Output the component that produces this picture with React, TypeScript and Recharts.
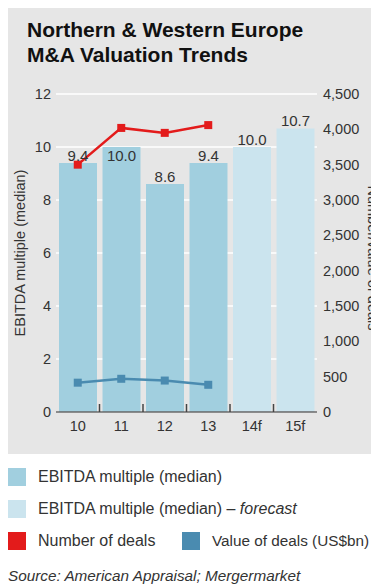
import React from 'react';
import { ComposedChart, Bar, Line, XAxis, YAxis, CartesianGrid, LabelList, Cell } from 'recharts';

// Years on the category axis ("f" = forecast)
const years = ['10', '11', '12', '13', '14f', '15f'];
// EBITDA multiple (median), left axis
const ebitdaMultiple = [9.4, 10.0, 8.6, 9.4, 10.0, 10.7];
const isForecast = [false, false, false, false, true, true];
// Number of deals and value of deals (US$bn), right axis
const numberOfDeals: (number | null)[] = [3500, 4020, 3950, 4060, null, null];
const valueOfDeals: (number | null)[] = [415, 470, 445, 385, null, null];
// Axis ticks
const multipleTicks = [0, 2, 4, 6, 8, 10, 12];
const dealTicks = [0, 500, 1000, 1500, 2000, 2500, 3000, 3500, 4000, 4500];

const data = years.map((year, i) => ({
  year,
  multiple: ebitdaMultiple[i],
  forecast: isForecast[i],
  deals: numberOfDeals[i],
  value: valueOfDeals[i],
}));

const FONT = '"Liberation Sans", Arial, Helvetica, sans-serif';
const TEXT = '#333333';
const PANEL = '#e6e6e6';
const BAR = '#a1cfdf';
const BAR_FORECAST = '#cbe4ee';
const RED = '#e31b1b';
const BLUE = '#4a8bb0';

const CHART_W = 371;
const CHART_H = 447;
const LEFT_W = 48;
const RIGHT_W = 62;
const BAND = (CHART_W - LEFT_W - RIGHT_W) / years.length;

// Bars whose value label sits just inside the top of the bar
const labelInside = [false, true, false, false, false, false];

const BarValueLabel = (props: any) => {
  const { x, y, width, value, index } = props;
  const cy = labelInside[index] ? y + 8 : y - 7.5;
  return (
    <text
      x={x + width / 2}
      y={cy}
      textAnchor="middle"
      dominantBaseline="central"
      fill={TEXT}
      fontFamily={FONT}
      fontSize={15}
    >
      {Number(value).toFixed(1)}
    </text>
  );
};

const YearTick = (props: any) => {
  const { x, y, payload, index } = props;
  return (
    <g>
      {index > 0 && (
        <line x1={x - BAND / 2} x2={x - BAND / 2} y1={y} y2={y - 8} stroke="#444" strokeWidth={1.5} />
      )}
      <text
        x={x}
        y={y + 14}
        textAnchor="middle"
        dominantBaseline="central"
        fill={TEXT}
        fontFamily={FONT}
        fontSize={14.5}
      >
        {payload.value}
      </text>
    </g>
  );
};

const squareDot = (color: string) => (p: any) => {
  if (p.cx == null || p.cy == null || p.value == null) return <g key={p.index} />;
  return <rect key={p.index} x={p.cx - 4} y={p.cy - 4} width={8} height={8} fill={color} />;
};

const LeftTitle = (props: any) => {
  const vb = props.viewBox;
  const x = vb.x + 12;
  const y = vb.y + vb.height / 2;
  return (
    <text
      x={x}
      y={y}
      transform={`rotate(-90, ${x}, ${y})`}
      textAnchor="middle"
      dominantBaseline="central"
      fill={TEXT}
      fontFamily={FONT}
      fontSize={14.5}
    >
      EBITDA multiple (median)
    </text>
  );
};

const RightTitle = (props: any) => {
  const vb = props.viewBox;
  const x = vb.x + 51;
  const y = vb.y + vb.height / 2 + 5;
  return (
    <text
      x={x}
      y={y}
      transform={`rotate(90, ${x}, ${y})`}
      textAnchor="middle"
      fill={TEXT}
      fontFamily={FONT}
      fontSize={14.5}
    >
      Number/value of deals
    </text>
  );
};

const Swatch = ({ color }: { color: string }) => (
  <span style={{ display: 'inline-block', width: 18, height: 18, background: color, marginRight: 12, flex: 'none' }} />
);

const legendRow: React.CSSProperties = {
  position: 'absolute',
  left: 0,
  display: 'flex',
  alignItems: 'center',
  height: 18,
  fontFamily: FONT,
  fontSize: 16,
  color: TEXT,
  whiteSpace: 'nowrap',
};

export default function App() {
  return (
    <div style={{ position: 'relative', width: CHART_W, height: 577, marginTop: -1, fontFamily: FONT }}>
      <div style={{ position: 'absolute', left: 0, top: 0, width: CHART_W, height: CHART_H, background: PANEL }}>
        <div
          style={{
            position: 'absolute',
            left: 19,
            top: 10,
            fontFamily: FONT,
            fontWeight: 'bold',
            fontSize: 21,
            lineHeight: '25px',
            color: '#111',
            whiteSpace: 'nowrap',
          }}
        >
          Northern &amp; Western Europe
          <br />
          M&amp;A Valuation Trends
        </div>
        <ComposedChart
          width={CHART_W}
          height={CHART_H}
          data={data}
          margin={{ top: 87, right: 0, bottom: 0, left: 0 }}
        >
          <CartesianGrid yAxisId="left" vertical={false} stroke="#ffffff" strokeWidth={1.5} />
          <YAxis
            yAxisId="left"
            domain={[0, 12]}
            ticks={multipleTicks}
            width={LEFT_W}
            axisLine={false}
            tickLine={false}
            tickSize={3}
            tickMargin={2}
            tick={{ fill: TEXT, fontSize: 14.5, fontFamily: FONT }}
            label={LeftTitle}
          />
          <YAxis
            yAxisId="right"
            orientation="right"
            domain={[0, 4500]}
            ticks={dealTicks}
            width={RIGHT_W}
            axisLine={false}
            tickLine={false}
            tickSize={4}
            tickMargin={2}
            tickFormatter={(v: number) => v.toLocaleString('en-US')}
            tick={{ fill: TEXT, fontSize: 14.5, fontFamily: FONT }}
            label={RightTitle}
          />
          <Bar yAxisId="left" dataKey="multiple" barSize={38} isAnimationActive={false}>
            {data.map((d, i) => (
              <Cell key={i} fill={d.forecast ? BAR_FORECAST : BAR} />
            ))}
            <LabelList dataKey="multiple" content={BarValueLabel} />
          </Bar>
          <Line
            yAxisId="right"
            dataKey="deals"
            stroke={RED}
            strokeWidth={2.5}
            dot={squareDot(RED)}
            activeDot={false}
            isAnimationActive={false}
          />
          <Line
            yAxisId="right"
            dataKey="value"
            stroke={BLUE}
            strokeWidth={2.5}
            dot={squareDot(BLUE)}
            activeDot={false}
            isAnimationActive={false}
          />
          <XAxis
            dataKey="year"
            height={CHART_H - 87 - 318}
            axisLine={{ stroke: '#666', strokeWidth: 1.5 }}
            tickLine={false}
            tickSize={0}
            tickMargin={0}
            interval={0}
            tick={YearTick}
          />
        </ComposedChart>
      </div>

      <div style={{ ...legendRow, top: 461 }}>
        <Swatch color={BAR} />
        EBITDA multiple (median)
      </div>
      <div style={{ ...legendRow, top: 493 }}>
        <Swatch color={BAR_FORECAST} />
        <span>
          EBITDA multiple (median) – <i>forecast</i>
        </span>
      </div>
      <div style={{ ...legendRow, top: 525 }}>
        <Swatch color={RED} />
        Number of deals
      </div>
      <div style={{ ...legendRow, top: 525, left: 174, fontSize: 15.3 }}>
        <Swatch color={BLUE} />
        <span>Value of deals (US$bn)</span>
      </div>
      <div
        style={{
          position: 'absolute',
          left: 0,
          top: 560,
          fontFamily: FONT,
          fontSize: 15.3,
          fontStyle: 'italic',
          lineHeight: '18px',
          color: TEXT,
          whiteSpace: 'nowrap',
        }}
      >
        Source: American Appraisal; Mergermarket
      </div>
    </div>
  );
}
